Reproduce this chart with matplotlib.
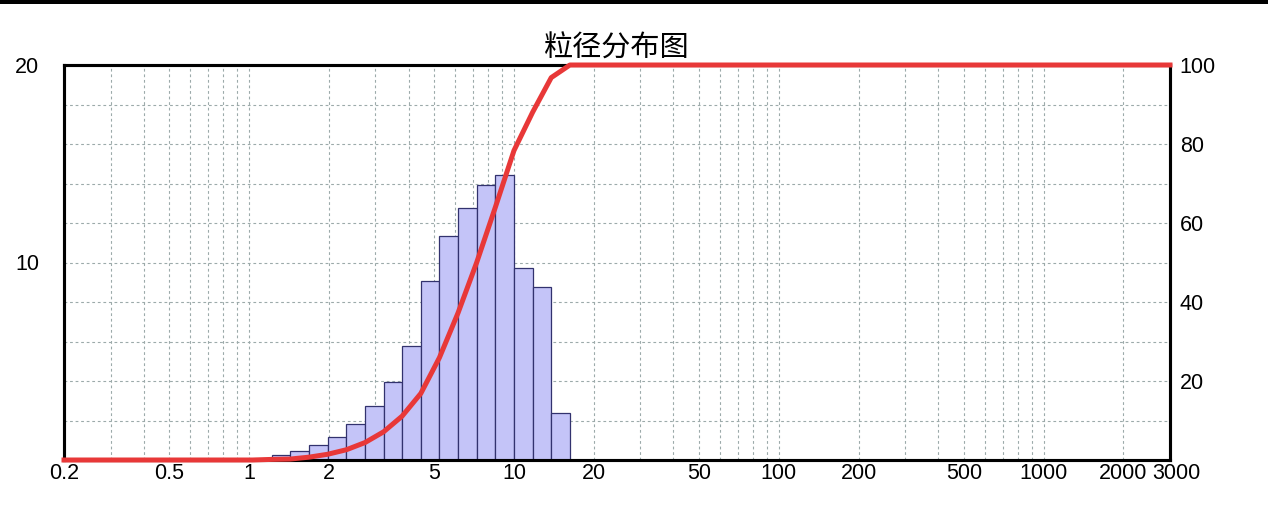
import numpy as np
import matplotlib
matplotlib.use("Agg")
from matplotlib import pyplot as plt
from matplotlib.ticker import FixedLocator, NullFormatter, LogLocator
from matplotlib.patches import Rectangle

# particle size bin edges (um) and volume percentage per bin
bin_edges = [1.215, 1.43, 1.68, 1.98, 2.33, 2.74, 3.22, 3.78, 4.45, 5.23,
             6.15, 7.23, 8.50, 10.0, 11.76, 13.83, 16.26]
bin_pct = [0.24, 0.47, 0.74, 1.15, 1.82, 2.72, 3.95, 5.76, 9.05, 11.34,
           12.74, 13.94, 14.41, 9.70, 8.78, 2.36]

# cumulative curve (right axis, %)
cum_x = [0.2, 1.03, 1.215, 1.43, 1.68, 1.98, 2.33, 2.74, 3.22, 3.78, 4.45,
         5.23, 6.15, 7.23, 8.50, 10.0, 11.76, 13.83, 16.26, 3000]
cum_y = [0, 0, 0.15, 0.24, 0.71, 1.45, 2.6, 4.42, 7.14, 11.09, 16.85,
         25.9, 37.24, 49.98, 63.92, 78.33, 88.03, 96.81, 100, 100]

x_ticks = [0.2, 0.5, 1, 2, 5, 10, 20, 50, 100, 200, 500, 1000, 2000, 3000]
x_labels = ["0.2", "0.5", "1", "2", "5", "10", "20", "50", "100", "200",
            "500", "1000", "2000", "3000"]
left_ticks = [10, 20]
right_ticks = [20, 40, 60, 80, 100]
title = "粒径分布图"

plt.rcParams["font.family"] = ["Liberation Sans", "DejaVu Sans"]
grid_color = "#9caaaa"
label_size = 15.5

fig = plt.figure(figsize=(12.68, 5.28), dpi=100)
ax = fig.add_axes([64 / 1268, 68 / 528, 1106 / 1268, 395 / 528])

widths = np.diff(bin_edges)
ax.bar(bin_edges[:-1], bin_pct, width=widths, align="edge",
       color="#c4c4f8", edgecolor="#32326e", linewidth=0.9, zorder=2)

ax.set_xscale("log")
ax.set_xlim(0.2, 3000)
ax.set_ylim(0, 20)
ax.xaxis.set_major_locator(FixedLocator(x_ticks))
ax.xaxis.set_minor_locator(LogLocator(base=10, subs=np.arange(1, 10)))
ax.xaxis.set_minor_formatter(NullFormatter())
# last label sits a little right of its tick, drawn separately below
ax.set_xticklabels(x_labels[:-1] + [""])
ax.annotate(x_labels[-1], xy=(x_ticks[-1], 0), xycoords=("data", "axes fraction"),
            xytext=(6, -3), textcoords="offset pixels", ha="center", va="top",
            fontsize=label_size, annotation_clip=False)
ax.yaxis.set_major_locator(FixedLocator(left_ticks))
ax.yaxis.set_minor_locator(FixedLocator(np.arange(0, 21, 2)))

ax.set_axisbelow(True)
ax.grid(which="both", color=grid_color, linestyle=(0, (2.5, 2.5)), linewidth=0.8)
ax.tick_params(which="both", length=0, labelsize=label_size)
ax.tick_params(axis="x", pad=2)
ax.tick_params(axis="y", pad=18)

ax2 = ax.twinx()
ax2.set_ylim(0, 100)
ax2.yaxis.set_major_locator(FixedLocator(right_ticks))
ax2.tick_params(length=0, labelsize=label_size, pad=7)
ax2.plot(cum_x, cum_y, color="#e83838", linewidth=3.6, clip_on=False,
         zorder=4, solid_joinstyle="round")

for a in (ax, ax2):
    for s in a.spines.values():
        s.set_linewidth(2.2)
        s.set_color("black")

fig.text(617 / 1268, 1 - 49 / 528, title, ha="center", va="center",
         fontsize=21, family=["Noto Sans CJK SC", "DejaVu Sans"])

# black rule along the top edge of the picture
fig.add_artist(Rectangle((0, 1 - 4 / 528), 1, 4 / 528, transform=fig.transFigure,
                         color="black", linewidth=0))

fig.savefig("out.png", dpi=100)
